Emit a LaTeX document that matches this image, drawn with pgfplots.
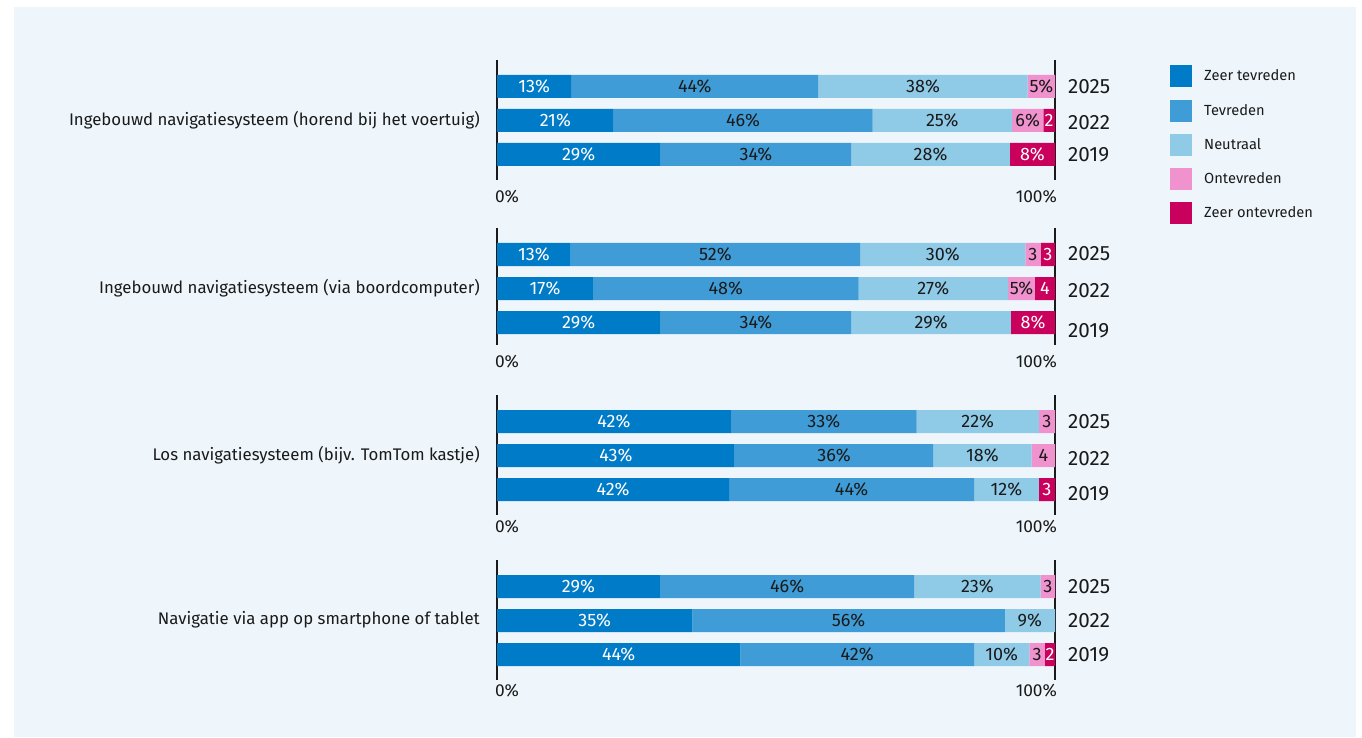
\documentclass[border=0pt]{standalone}
\usepackage{fontspec}
\setmainfont{Fira Sans}
\usepackage{pgfplots}
\pgfplotsset{compat=1.18}
\definecolor{zt}{HTML}{007BC7}
\definecolor{tv}{HTML}{3F9CD6}
\definecolor{nt}{HTML}{8FCAE7}
\definecolor{ot}{HTML}{F092CD}
\definecolor{zo}{HTML}{CA005D}
\definecolor{bg}{HTML}{EEF6FC}
\definecolor{ink}{HTML}{1A1A1A}

\tikzset{
  frame/.style={ink, line width=1.3pt},
  scl/.style={inner sep=0pt, font=\fontsize{13}{15}\selectfont, text=ink},
  grp/.style={anchor=east, inner sep=0pt, font=\fontsize{12.6}{15}\selectfont, text=ink},
  yr/.style={anchor=west, inner sep=0pt, font=\fontsize{15.5}{18}\selectfont, text=ink},
}

\begin{document}
\begin{tikzpicture}
% page and panel (1px = 0.75pt)
\fill[white] (0,0) rectangle (1021.5pt,553.5pt);
\fill[bg] (10.5pt,0.75pt) rectangle (1017pt,548.25pt);
\begin{axis}[
  x=4.185pt, y=0.75pt, y dir=reverse,
  xmin=-89.068, xmax=155.018, ymin=0, ymax=738,
  enlargelimits=false, hide axis, clip=false,
  xbar stacked, bar width=17.25pt,
  visualization depends on={rawx \as \rawx},
  nodes near coords={\ifdim\rawx pt<0.5pt\else\pgfmathprintnumber[fixed,precision=0,assume math mode=true]{\rawx}\ifdim\rawx pt<4.5pt\else\%\fi\fi},
  every node near coord/.append style={anchor=center, inner sep=0pt,
    font=\fontsize{13.5}{15}\selectfont, text=ink},
  legend style={at={(axis cs:120.6,65)}, anchor=north west, draw=none, fill=none,
    inner sep=0pt, row sep=9.2pt, font=\fontsize{11}{12}\selectfont, text=ink,
    /tikz/every odd column/.append style={column sep=7pt}},
  legend cell align=left,
  legend image code/.code={\fill[#1] (0pt,-8.25pt) rectangle (16.5pt,8.25pt);},
]
\addplot[fill=zt, draw=none, every node near coord/.append style={text=white}] coordinates {
  (13.3,86.5) (20.9,120.5) (29.3,154.5)
  (13.2,254.5) (17.2,288.5) (29.3,322.5)
  (41.9,421.5) (42.6,455.5) (41.6,489.5)
  (29.2,586.5) (35.0,620.5) (43.6,654.5)};
\addlegendentry{Zeer tevreden}
\addplot[fill=tv, draw=none] coordinates {
  (44.3,86.5) (46.4,120.5) (34.2,154.5)
  (51.9,254.5) (47.6,288.5) (34.2,322.5)
  (33.3,421.5) (35.6,455.5) (43.9,489.5)
  (45.6,586.5) (56.0,620.5) (41.9,654.5)};
\addlegendentry{Tevreden}
\addplot[fill=nt, draw=none] coordinates {
  (37.5,86.5) (25.0,120.5) (28.4,154.5)
  (29.6,254.5) (26.8,288.5) (28.6,322.5)
  (21.9,421.5) (17.6,455.5) (11.6,489.5)
  (22.6,586.5) (9.0,620.5) (9.9,654.5)};
\addlegendentry{Neutraal}
\addplot[fill=ot, draw=none] coordinates {
  (4.9,86.5) (5.6,120.5) (0,154.5)
  (2.7,254.5) (4.8,288.5) (0,322.5)
  (2.9,421.5) (4.2,455.5) (0,489.5)
  (2.6,586.5) (0,620.5) (2.8,654.5)};
\addlegendentry{Ontevreden}
\addplot[fill=zo, draw=none, every node near coord/.append style={text=white}] coordinates {
  (0,86.5) (2.1,120.5) (8.1,154.5)
  (2.6,254.5) (3.6,288.5) (7.9,322.5)
  (0,421.5) (0,455.5) (2.9,489.5)
  (0,586.5) (0,620.5) (1.8,654.5)};
\addlegendentry{Zeer ontevreden}

% group 1
\draw[frame] (axis cs:0,60) -- (axis cs:0,180);
\draw[frame] (axis cs:100,60) -- (axis cs:100,180);
\node[scl, anchor=west] at (axis cs:-0.4,197) {0\%};
\node[scl, anchor=east] at (axis cs:100.4,197) {100\%};
\node[grp] at (axis cs:-3.05,120) {Ingebouwd navigatiesysteem (horend bij het voertuig)};
\node[yr] at (axis cs:102.3,87) {2025};
\node[yr] at (axis cs:102.3,123) {2022};
\node[yr] at (axis cs:102.3,155) {2019};
% group 2
\draw[frame] (axis cs:0,228) -- (axis cs:0,345);
\draw[frame] (axis cs:100,228) -- (axis cs:100,345);
\node[scl, anchor=west] at (axis cs:-0.4,362) {0\%};
\node[scl, anchor=east] at (axis cs:100.4,362) {100\%};
\node[grp] at (axis cs:-3.05,288) {Ingebouwd navigatiesysteem (via boordcomputer)};
\node[yr] at (axis cs:102.3,254) {2025};
\node[yr] at (axis cs:102.3,291) {2022};
\node[yr] at (axis cs:102.3,331) {2019};
% group 3
\draw[frame] (axis cs:0,395) -- (axis cs:0,515);
\draw[frame] (axis cs:100,395) -- (axis cs:100,515);
\node[scl, anchor=west] at (axis cs:-0.4,527) {0\%};
\node[scl, anchor=east] at (axis cs:100.4,527) {100\%};
\node[grp] at (axis cs:-3.05,455) {Los navigatiesysteem (bijv. TomTom kastje)};
\node[yr] at (axis cs:102.3,422) {2025};
\node[yr] at (axis cs:102.3,459) {2022};
\node[yr] at (axis cs:102.3,494) {2019};
% group 4
\draw[frame] (axis cs:0,560) -- (axis cs:0,680);
\draw[frame] (axis cs:100,560) -- (axis cs:100,680);
\node[scl, anchor=west] at (axis cs:-0.4,691) {0\%};
\node[scl, anchor=east] at (axis cs:100.4,691) {100\%};
\node[grp] at (axis cs:-3.05,620) {Navigatie via app op smartphone of tablet};
\node[yr] at (axis cs:102.3,587) {2025};
\node[yr] at (axis cs:102.3,621) {2022};
\node[yr] at (axis cs:102.3,655) {2019};
\end{axis}
\end{tikzpicture}
\end{document}
